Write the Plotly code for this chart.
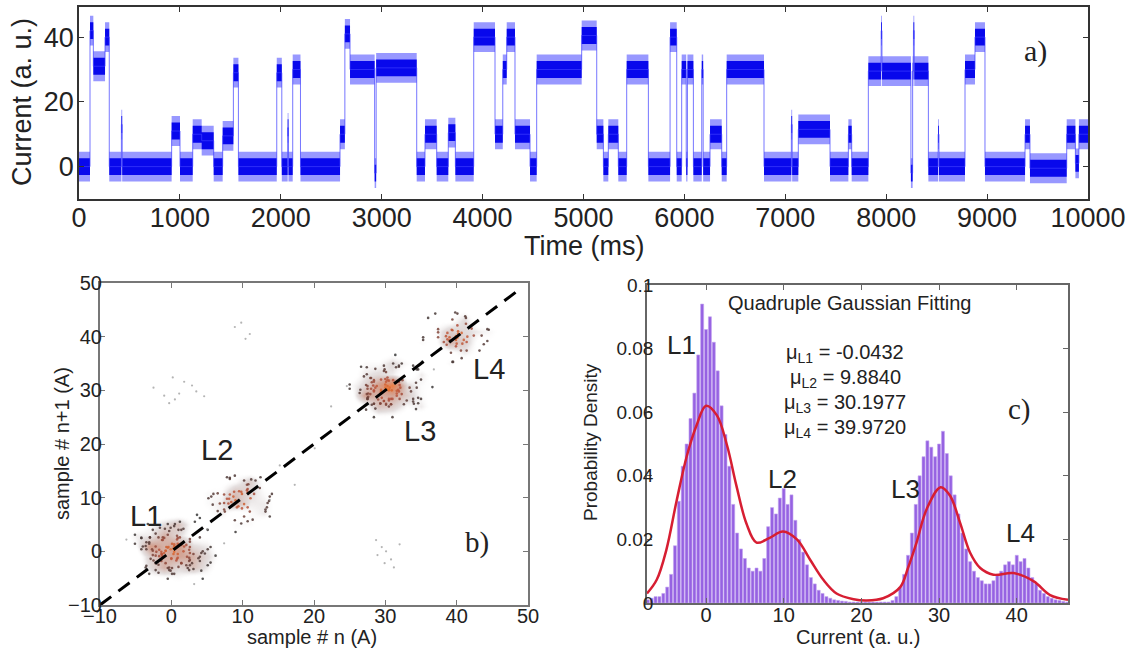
import numpy as np
import plotly.graph_objects as go

W, H = 1135, 652
FONT = "Liberation Sans, Arial, sans-serif"
SERIF = "Liberation Serif, Times New Roman, serif"
TXT = "#222222"

# ---------------- a) time trace: dwell segments ----------------
seg_start_ms = [0, 109, 142, 258, 300, 420, 428, 918, 1001, 1127, 1216, 1335, 1424, 1530, 1580,
                1960, 2010, 2068, 2076, 2118, 2195, 2587, 2635, 2686, 2930, 2945, 3347, 3429, 3545,
                3660, 3730, 3912, 4123, 4200, 4239, 4321, 4470, 4536, 4982, 5131, 5197, 5246, 5345,
                5428, 5643, 5858, 5924, 5973, 6018, 6030, 6089, 6172, 6186, 6254, 6370, 6419, 6789,
                7060, 7068, 7129, 7443, 7625, 7658, 7823, 7950, 7958, 8245, 8262, 8270, 8278, 8418,
                8515, 8523, 8781, 8880, 8979, 9376, 9425, 9789, 9875, 9910]
seg_level = [0, 42, 31, 40, 0, 13, 0, 11, 0, 10, 8, 0, 9.5, 29, 0,
             29, 0, 12, 0, 30, 0, 10, 41, 30, -2, 30.5, 0, 10, 0,
             10.5, 0, 40, 10, 30, 40, 10, 0, 30, 40.5, 10, 0, 10, 0,
             30, 0, 40, 0, 30, 0, 30, 0, 30, 0, 10, 0, 30, 0,
             13, 0, 11.5, 0, 10, 0, 29.5, 42, 29.5, -2, 29.5, 42, 29.5, 0,
             10, 0, 30, 40, 0, 10, -0.5, 10, 1, 10]
trace_end_ms = 10000
time_ticks = [0, 1000, 2000, 3000, 4000, 5000, 6000, 7000, 8000, 9000, 10000]
current_ticks = [0, 20, 40]

# ---------------- b) return map: consecutive samples within each level ----------------
samples_L1 = [-1.3, -0.5, 0.7, -1.7, 0.3, 0.5, 5.1, 4.0, -1.8, 2.6, 0.8, 0.9, -1.2, 2.6, -1.6, 4.4,
              -5.1, 3.1, -0.5, 5.1, -2.6, 4.0, 6.2, -0.8, 0.1, -4.2, 2.5, -3.5, 1.7, 4.2, -0.3, 3.8,
              -1.3, 2.1, -2.6, -0.7, 0.8, 2.9, -2.2, 3.3, 5.5, 0.8, 2.2, -1.0, 2.5, 0.3, -0.5, -3.1,
              1.4, 1.2, 5.5, -2.1, -0.1, -3.6, 1.0, -2.9, -1.4, -1.8, -4.0, 0.9, 1.4, 4.0, 2.6, -0.3,
              -3.5, 0.4, -4.2, 2.5, -1.8, -2.5, -1.7, -0.9, 4.2, -3.6, -3.0, 2.6, 2.3, -3.1, 1.7, 0.0,
              -1.4, -0.5, -5.1, 1.4, -2.2, -0.8, 0.1, -3.1, -4.2, 0.4, 4.7, -0.4, 0.8, -1.4, -0.1, 4.4,
              0.0, -1.3, -0.8, -2.2, 0.9, -0.5, 3.1, -3.3, 5.1, 0.4, 1.0, 4.0, -1.0, -0.3, -3.0, 2.6,
              1.8, 0.9, 2.5, -1.2, 2.1, 1.2, 2.6, -2.6, 0.1, 1.4, -2.2, -2.2, -3.5, -2.7, 0.4, -0.1,
              0.4, 1.3]
samples_L2 = [8.1, 9.8, 5.2, 9.9, 10.7, 5.6, 10.2, 8.8, 11.1, 9.9, 8.0, 8.9, 14.1, 10.7, 11.6, 10.7,
              8.2, 13.7, 9.4, 8.4, 9.2, 8.2, 10.6, 11.4, 5.9, 10.7, 11.0, 7.4, 10.6, 12.4, 11.8, 13.2,
              7.4, 7.8, 13.8, 6.5, 10.8, 12.5, 13.8, 10.2, 6.5, 7.5, 7.4, 9.0, 9.5, 11.2, 13.4, 8.2,
              13.5, 9.0, 3.6, 6.8, 8.9, 5.8, 8.7, 10.2, 13.2, 7.8, 9.8, 11.1]
samples_L3 = [27.9, 29.3, 29.4, 29.8, 34.6, 27.6, 29.4, 30.1, 27.3, 26.4, 29.5, 28.6, 30.5, 28.4, 25.0,
              31.1, 31.9, 34.6, 33.9, 34.6, 28.6, 34.0, 27.5, 30.8, 27.4, 29.3, 27.6, 28.8, 30.8, 27.4,
              34.3, 26.5, 30.1, 27.5, 30.3, 32.4, 31.9, 29.8, 28.0, 32.3, 35.0, 28.4, 30.0, 30.5, 31.8,
              30.1, 33.4, 30.5, 30.1, 31.6, 29.9, 33.9, 27.9, 32.3, 29.3, 27.5, 28.6, 26.6, 34.4, 33.9,
              28.4, 27.5, 28.4, 27.5, 28.4, 29.8, 33.6, 29.8, 28.0, 30.3, 30.8, 28.4, 31.9, 31.6, 29.0,
              28.3, 30.9, 30.0, 32.1, 30.5, 28.1, 31.5, 34.3, 31.4, 36.6, 30.6, 30.5, 30.0, 31.1, 35.0,
              32.0, 28.4, 31.6, 29.4, 32.0, 31.0, 25.0, 30.3, 30.3, 31.9, 34.4, 30.5, 27.0, 32.6, 27.4,
              33.0, 28.1, 27.3, 31.0, 28.4]
samples_L4 = [40.1, 42.1, 41.5, 40.0, 38.7, 39.5, 35.3, 39.4, 41.2, 43.8, 38.6, 38.5, 40.1, 39.8, 44.5,
              41.3, 43.5, 40.2, 41.0, 39.4, 35.3, 39.9, 40.1, 44.3, 39.2, 37.0, 44.3, 41.4, 37.4, 39.9,
              38.2, 39.0, 39.3, 41.3, 42.4, 40.2, 40.6, 37.4, 41.4, 39.0, 39.9, 39.4, 43.2, 37.4, 40.8,
              38.7, 40.7, 40.7, 36.0, 43.5]
transition_n = [-2.5, 0.5, 1.8, -1.0, 3.5, 0.2, 4.6, -0.3, 2.9, 1.1,
                29.5, 30.8, 28.7, 31.2, 30.1, 29.9, 32.0, 28.9,
                9.8, 11.0, 10.4, 8.9,
                5.0, 15.2, 20.1, 17.3, 22.4, 35.1, -6.3, 3.2, 13.8, 24.6, 36.8, 7.4]
transition_n1 = [30.5, 28.3, 31.6, 29.0, 29.8, 32.4, 28.9, 27.6, 30.9, 29.4,
                 0.8, -1.5, 2.1, -3.0, 0.0, -2.2, 1.3, -0.7,
                 42.6, 40.5, 39.6, 41.8,
                 4.1, 16.0, 19.2, 12.4, 27.0, 35.4, 2.2, -6.1, 9.6, 30.8, 33.9, 1.5]
diag_x = [-10, 48.7]
diag_y = [-10, 48.7]
sample_ticks = [-10, 0, 10, 20, 30, 40, 50]

# ---------------- c) histogram (bin width 0.5, first centre -7.5) and fit ----------------
hist_first_centre = -7.5
hist_bin_width = 0.5
hist_density = [0.001, 0.0015, 0.002, 0.002, 0.003, 0.005, 0.009, 0.018, 0.032, 0.043, 0.050, 0.058,
                0.066, 0.078, 0.094, 0.086, 0.090, 0.082, 0.073, 0.062, 0.053, 0.043, 0.031, 0.022,
                0.017, 0.014, 0.011, 0.010, 0.011, 0.010, 0.014, 0.024, 0.030, 0.028, 0.033, 0.036,
                0.031, 0.034, 0.026, 0.020, 0.016, 0.012, 0.008, 0.006, 0.004, 0.003, 0.002, 0.0015,
                0.001, 0.0008, 0.0006, 0.0005, 0.0003, 0.0003, 0.0003, 0.0003, 0.0003, 0.0003, 0.0003,
                0.0003, 0.0003, 0.0003, 0.0003, 0.0008, 0.002, 0.005, 0.009, 0.015, 0.022, 0.031, 0.040,
                0.046, 0.051, 0.049, 0.046, 0.050, 0.054, 0.047, 0.040, 0.034, 0.028, 0.022, 0.017,
                0.013, 0.010, 0.008, 0.007, 0.006, 0.006, 0.007, 0.009, 0.010, 0.012, 0.013, 0.012,
                0.015, 0.013, 0.014, 0.011, 0.008, 0.006, 0.004, 0.003, 0.002, 0.0015, 0.001, 0.0008,
                0.0005, 0.0003]
fit_x = [-7.6, -6.35, -5.1, -3.8, -2.5, -1.2, 0.0, 1.4, 2.7, 3.9, 5.2, 6.5, 8.2, 9.9, 11.7, 13.4,
         15.1, 16.8, 19.0, 20.7, 22.8, 25.0, 26.0, 27.1, 28.4, 30.2, 31.4, 32.7, 34.0, 35.3, 37.0,
         39.6, 42.2, 44.3, 46.6]
fit_y = [0.003, 0.0073, 0.0168, 0.032, 0.046, 0.056, 0.062, 0.059, 0.0496, 0.037, 0.025, 0.019,
         0.0205, 0.0225, 0.020, 0.0136, 0.0073, 0.003, 0.0012, 0.0008, 0.0015, 0.005, 0.011, 0.019,
         0.0295, 0.0364, 0.0338, 0.0253, 0.0158, 0.011, 0.0089, 0.0094, 0.0068, 0.0025, 0.001]
mu_labels = ["L1", "L2", "L3", "L4"]
mu_values = ["-0.0432", "9.8840", "30.1977", "39.9720"]
hist_xticks = [0, 10, 20, 30, 40]
hist_yticks = [0, 0.02, 0.04, 0.06, 0.08, 0.1]

fig = go.Figure()

# --- a) trace: noise band around each dwell level + thin centre line for the jumps
step_x = seg_start_ms + [trace_end_ms]
step_y = np.array(seg_level + [seg_level[-1]], dtype=float)
for half, col in [(4.6, "rgba(50,50,255,0.5)"), (2.6, "rgba(0,0,235,0.95)")]:
    fig.add_trace(go.Scatter(x=step_x, y=step_y - half, mode="lines", line=dict(width=0, shape="hv"),
                             xaxis="x", yaxis="y", hoverinfo="skip"))
    fig.add_trace(go.Scatter(x=step_x, y=step_y + half, mode="lines", line=dict(width=0, shape="hv"),
                             fill="tonexty", fillcolor=col, xaxis="x", yaxis="y", hoverinfo="skip"))
fig.add_trace(go.Scatter(x=step_x, y=step_y, mode="lines",
                         line=dict(color="rgba(60,60,255,0.7)", width=1, shape="hv"),
                         xaxis="x", yaxis="y"))

# --- b) return map (sample n vs sample n+1)
all_n, all_n1 = [], []
for s in [samples_L1, samples_L2, samples_L3, samples_L4]:
    all_n += s[:-1]
    all_n1 += s[1:]
fig.add_trace(go.Histogram2dContour(
    x=all_n, y=all_n1, xaxis="x2", yaxis="y2", showscale=False, hoverinfo="skip",
    xbins=dict(start=-10, end=50, size=2.0), ybins=dict(start=-10, end=50, size=2.0),
    contours=dict(coloring="heatmap", showlines=False), line=dict(width=0), ncontours=30,
    colorscale=[[0, "rgba(255,255,255,0)"], [0.08, "rgba(255,255,255,0)"],
                [0.25, "rgba(150,130,130,0.25)"], [0.55, "rgba(175,95,70,0.55)"],
                [1, "rgba(238,112,45,0.9)"]]))
for s in [samples_L1, samples_L2, samples_L3, samples_L4]:
    arr = np.array(s)
    xn, yn = arr[:-1], arr[1:]
    c = arr.mean()
    d = np.hypot(xn - c, yn - c)
    fig.add_trace(go.Scatter(x=xn, y=yn, mode="markers", xaxis="x2", yaxis="y2",
                             marker=dict(size=2.6, color=d, cmin=0, cmax=6.5, opacity=0.85,
                                         colorscale=[[0, "rgb(235,115,45)"], [0.3, "rgb(180,80,60)"],
                                                     [0.55, "rgb(90,60,55)"], [1, "rgb(55,55,55)"]])))
fig.add_trace(go.Scatter(x=transition_n, y=transition_n1, mode="markers", xaxis="x2", yaxis="y2",
                         marker=dict(size=2.2, color="rgba(130,130,130,0.6)")))
fig.add_trace(go.Scatter(x=diag_x, y=diag_y, mode="lines", xaxis="x2", yaxis="y2",
                         line=dict(color="black", width=3, dash="14px,9px")))

# --- c) histogram + fit
fig.add_trace(go.Bar(x0=hist_first_centre, dx=hist_bin_width, y=hist_density, xaxis="x3", yaxis="y3",
                     marker=dict(color="rgb(150,98,226)", line=dict(color="rgb(195,165,240)", width=0.6))))
fig.add_trace(go.Scatter(x=fit_x, y=fit_y, mode="lines", xaxis="x3", yaxis="y3",
                         line=dict(color="rgb(215,30,50)", width=2.5, shape="spline")))


def axis(domain, rng, size, standoff, color="#444", width=1.5, **kw):
    d = dict(domain=domain, range=rng, showline=True, linecolor=color, linewidth=width, mirror="ticks",
             ticks="inside", ticklen=5, tickwidth=1.3, tickcolor=color, showgrid=False, zeroline=False,
             automargin=False, ticklabelstandoff=standoff,
             tickfont=dict(family=FONT, size=size, color=TXT))
    d.update(kw)
    return d


fig.update_layout(
    width=W, height=H, margin=dict(l=0, r=0, t=0, b=0), autosize=False,
    paper_bgcolor="white", plot_bgcolor="white", showlegend=False, bargap=0.22,
    font=dict(family=FONT, color=TXT),
    xaxis=axis([79 / W, 1088 / W], [0, trace_end_ms], 27, -6, "#333", anchor="y", tickvals=time_ticks,
               tickformat="d"),
    yaxis=axis([1 - 199 / H, 1 - 7 / H], [-10, 49.3], 27, -2, "#333", anchor="x", tickvals=current_ticks),
    xaxis2=axis([100 / W, 528 / W], [-10, 50], 20, -8, "#777", 2, anchor="y2", tickvals=sample_ticks),
    yaxis2=axis([1 - 605 / H, 1 - 283 / H], [-10, 50], 20, -8, "#777", 2, anchor="x2", tickvals=sample_ticks),
    xaxis3=axis([647 / W, 1068 / W], [-7.6, 46.6], 20, -7, "#666", anchor="y3", tickvals=hist_xticks),
    yaxis3=axis([1 - 603 / H, 1 - 285 / H], [0, 0.1], 19, -12, "#666", anchor="x3", tickvals=hist_yticks),
)


def ptext(text, px, py, size, angle=0, family=FONT, anchor="center"):
    return dict(text=text, x=px / W, y=1 - py / H, xref="paper", yref="paper", showarrow=False,
                xanchor=anchor, yanchor="middle", textangle=angle,
                font=dict(family=family, size=size, color=TXT))


ann = [
    ptext("Time (ms)", 583.5, 246, 27),
    ptext("Current (a. u.)", 22, 102, 27, -90),
    ptext("sample # n (A)", 312, 637, 20),
    ptext("sample # n+1 (A)", 62, 444, 20, -90),
    ptext("Current (a. u.)", 858, 637, 20),
    ptext("Probability Density", 590, 442, 19, -90),
    ptext("Quadruple Gaussian Fitting", 849, 303, 20),
]
ann.append(dict(text="a)", x=9475, y=35.8, xref="x", yref="y", showarrow=False,
                font=dict(family=SERIF, size=30, color=TXT)))
for t, x, y in [("L1", -3.6, 6.6), ("L2", 6.4, 18.9), ("L3", 34.8, 22.4), ("L4", 44.5, 34.0)]:
    ann.append(dict(text=t, x=x, y=y, xref="x2", yref="y2", showarrow=False,
                    font=dict(family=FONT, size=29, color=TXT)))
ann.append(dict(text="b)", x=42.9, y=1.6, xref="x2", yref="y2", showarrow=False,
                font=dict(family=SERIF, size=29, color=TXT)))
for t, x, y in [("L1", -3.2, 0.081), ("L2", 9.9, 0.039), ("L3", 25.7, 0.036), ("L4", 40.5, 0.022)]:
    ann.append(dict(text=t, x=x, y=y, xref="x3", yref="y3", showarrow=False,
                    font=dict(family=FONT, size=26, color=TXT)))
ann.append(dict(text="c)", x=40.4, y=0.061, xref="x3", yref="y3", showarrow=False,
                font=dict(family=SERIF, size=29, color=TXT)))
for i, (lab, val) in enumerate(zip(mu_labels, mu_values)):
    ann.append(ptext(f"μ<sub>{lab}</sub> = {val}", 845, 353 + 25 * i, 20))
fig.update_layout(annotations=ann)

fig.write_html("out.html")
